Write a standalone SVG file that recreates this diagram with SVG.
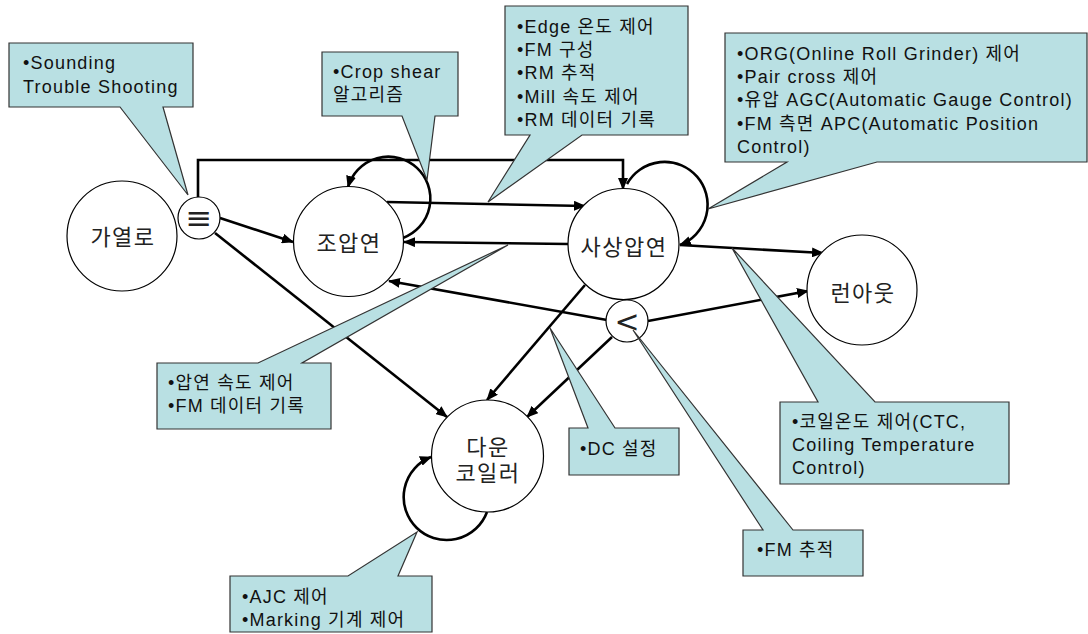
<svg xmlns="http://www.w3.org/2000/svg" width="1088" height="634" viewBox="0 0 1088 634">
<defs>
<marker id="ah" viewBox="0 0 12 10" refX="11" refY="5" markerWidth="12" markerHeight="10" markerUnits="userSpaceOnUse" orient="auto">
<path d="M0,0 L12,5 L0,10 Z" fill="#000"/>
</marker>
<style>
.node{fill:#fff;stroke:#000;stroke-width:1.2}
.lbl{font-family:"Liberation Sans","Noto Sans CJK KR",sans-serif;font-size:22px;fill:#222;text-anchor:middle;letter-spacing:1.5px}
.sym{font-family:"DejaVu Sans",sans-serif;fill:#222;text-anchor:middle}
.co{fill:#b9e0e3;stroke:#333;stroke-width:1.2;stroke-linejoin:miter}
.ct{font-family:"Liberation Sans","Noto Sans CJK KR",sans-serif;font-size:18px;fill:#111;letter-spacing:1.2px}
.ed{fill:none;stroke:#000;stroke-width:2.6;marker-end:url(#ah)}
</style>
</defs>
<rect width="1088" height="634" fill="#fff"/>

<g id="connectors">
<path class="ed" d="M198,197 V160 H623 V189"/>
<path class="ed" d="M220,218 L293,242"/>
<path class="ed" d="M215,233 L447,417"/>
<path class="ed" d="M387,202 L585,206"/>
<path class="ed" d="M568,244 L404,242"/>
<path class="ed" d="M403,238 A42,42 0 1 0 348,187"/>
<path class="ed" d="M627,184 A43,43 0 1 1 680,245"/>
<path class="ed" d="M680,245 L823,253"/>
<path class="ed" d="M607,320 L389,281"/>
<path class="ed" d="M648,321 L808,291"/>
<path class="ed" d="M585,285 L487,400"/>
<path class="ed" d="M612,337 L527,417"/>
<path class="ed" d="M487,512 A43,43 0 1 1 431,457"/>
</g>

<g id="n-heating"><circle class="node" cx="122" cy="236" r="55"/><text class="lbl" x="123" y="245">가열로</text></g>
<g id="n-junction1"><circle class="node" cx="199" cy="218" r="21"/><text class="sym" x="199" y="229" font-size="32">≡</text></g>
<g id="n-rough"><circle class="node" cx="348.5" cy="241.5" r="55"/><text class="lbl" x="349" y="251">조압연</text></g>
<g id="n-finish"><circle class="node" cx="623.5" cy="244" r="55.5"/><text class="lbl" x="624" y="255">사상압연</text></g>
<g id="n-junction2"><circle class="node" cx="627" cy="321" r="21"/><text class="sym" x="627" y="332" font-size="30">&lt;</text></g>
<g id="n-runout"><circle class="node" cx="862" cy="290" r="55"/><text class="lbl" x="863" y="301">런아웃</text></g>
<g id="n-coiler"><circle class="node" cx="487.5" cy="456" r="56"/><text class="lbl" x="488" y="455">다운</text><text class="lbl" x="488" y="481">코일러</text></g>

<g id="c-sounding"><path class="co" d="M9,43 H193 V107 H163 L188,195 L120,107 H9 Z"/>
<text class="ct" x="23" y="69">•Sounding</text><text class="ct" x="23" y="93">Trouble Shooting</text></g>
<g id="c-crop"><path class="co" d="M322,52 H458 V116 H435 L427,180 L402,116 H322 Z"/>
<text class="ct" x="333" y="78">•Crop shear</text><text class="ct" x="333" y="101">알고리즘</text></g>
<g id="c-edge"><path class="co" d="M505,6 H688 V135 H582 L488,202 L530,135 H505 Z"/>
<text class="ct" x="517" y="33">•Edge 온도 제어</text><text class="ct" x="517" y="56">•FM 구성</text><text class="ct" x="517" y="79">•RM 추적</text><text class="ct" x="517" y="103">•Mill 속도 제어</text><text class="ct" x="517" y="126">•RM 데이터 기록</text></g>
<g id="c-org"><path class="co" d="M725,33 H1087 V162 H877 L708,209 L787,162 H725 Z"/>
<text class="ct" x="737" y="60">•ORG(Online Roll Grinder) 제어</text><text class="ct" x="737" y="83">•Pair cross 제어</text><text class="ct" x="737" y="106">•유압 AGC(Automatic Gauge Control)</text><text class="ct" x="737" y="130">•FM 측면 APC(Automatic Position</text><text class="ct" x="737" y="153">Control)</text></g>
<g id="c-speed"><path class="co" d="M157,363 H258 L508,245 L302,363 H331 V429 H157 Z"/>
<text class="ct" x="168" y="389">•압연 속도 제어</text><text class="ct" x="168" y="412">•FM 데이터 기록</text></g>
<g id="c-dc"><path class="co" d="M569,428 H588 L550,328 L615,428 H679 V475 H569 Z"/>
<text class="ct" x="580" y="455">•DC 설정</text></g>
<g id="c-fmtrack"><path class="co" d="M743,530 H763 L633,330 L793,530 H863 V576 H743 Z"/>
<text class="ct" x="757" y="556">•FM 추적</text></g>
<g id="c-ctc"><path class="co" d="M780,402 H818 L732,248 L875,402 H1009 V484 H780 Z"/>
<text class="ct" x="792" y="428">•코일온도 제어(CTC,</text><text class="ct" x="792" y="451">Coiling Temperature</text><text class="ct" x="792" y="474">Control)</text></g>
<g id="c-ajc"><path class="co" d="M230,576 H348 L417,532 L398,576 H432 V632 H230 Z"/>
<text class="ct" x="242" y="603">•AJC 제어</text><text class="ct" x="242" y="626">•Marking 기계 제어</text></g>
</svg>
